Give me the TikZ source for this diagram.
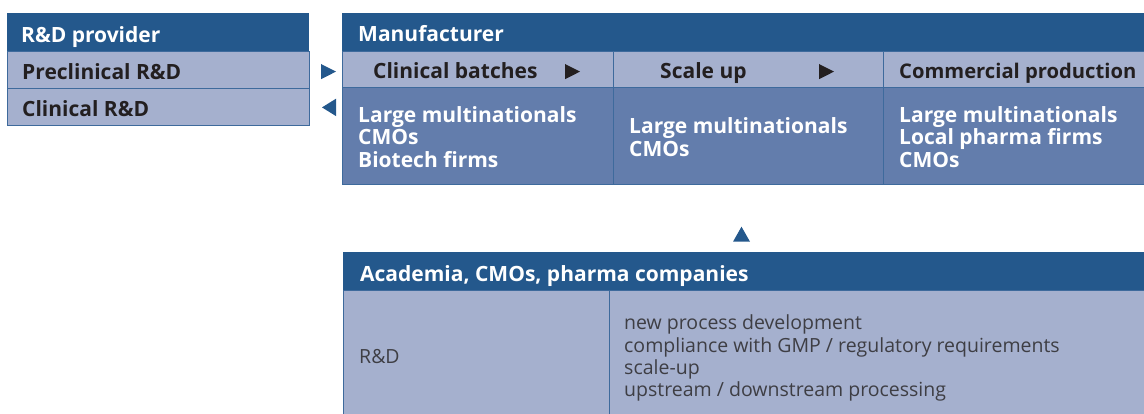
\documentclass[tikz,border=0pt]{standalone}
\usepackage{fontspec}
\setmainfont{Open Sans}
\definecolor{hdr}{RGB}{36,88,140}
\definecolor{lightc}{RGB}{165,176,206}
\definecolor{midc}{RGB}{99,125,172}
\definecolor{edgec}{RGB}{62,106,156}
\definecolor{ink}{RGB}{35,31,32}
\definecolor{grayink}{RGB}{62,62,68}
\tikzset{
  hdrbox/.style={fill=hdr, draw=none, inner sep=0, anchor=north west},
  lightbox/.style={fill=lightc, draw=edgec, line width=0.9pt, inner sep=0, anchor=north west},
  midbox/.style={fill=midc, draw=edgec, line width=0.9pt, inner sep=0, anchor=north west},
  boldfont/.style={font=\bfseries\fontsize{21}{22.7}\selectfont},
  hdrtext/.style={boldfont, anchor=base west, inner sep=0, text=white},
  rowtext/.style={boldfont, anchor=base west, inner sep=0, text=ink},
  celltext/.style={boldfont, anchor=base west, inner sep=0, text=white, align=left},
  bodytext/.style={font=\fontsize{19.5}{22.3}\selectfont, anchor=base west, inner sep=0, text=grayink, align=left},
  bluetri/.style={fill=hdr, draw=none},
  blacktri/.style={fill=ink, draw=none}
}
\begin{document}
\begin{tikzpicture}[x=1pt,y=-1pt]
\useasboundingbox (0,0) rectangle (1144,414);
\clip (0,0) rectangle (1144,414);
% ---------- R&D provider table
\node[hdrbox, minimum width=302pt, minimum height=38pt] (hL) at (7,13) {};
\node[lightbox, minimum width=302pt, minimum height=37pt] (pre) at (7,51) {};
\node[lightbox, minimum width=302pt, minimum height=37pt] (cli) at (7,88) {};
\node[hdrtext] (thL) at (21,42.7) {R\&D provider};
\node[rowtext] (tpre) at (22,79.3) {Preclinical R\&D};
\node[rowtext] (tcli) at (22,116.7) {Clinical R\&D};
% ---------- Manufacturer table
\node[hdrbox, minimum width=810pt, minimum height=38pt] (hM) at (342,13) {};
\node[lightbox, minimum width=271pt, minimum height=36pt] (s1) at (342,51) {};
\node[lightbox, minimum width=270pt, minimum height=36pt] (s2) at (613,51) {};
\node[lightbox, minimum width=270pt, minimum height=36pt] (s3) at (883,51) {};
\node[midbox, minimum width=271pt, minimum height=97pt] (c1) at (342,87) {};
\node[midbox, minimum width=270pt, minimum height=97pt] (c2) at (613,87) {};
\node[midbox, minimum width=270pt, minimum height=97pt] (c3) at (883,87) {};
\node[hdrtext] (thM) at (358,42) {Manufacturer};
\node[rowtext] (ts1) at (373,78.7) {Clinical batches};
\node[rowtext] (ts2) at (660,78.7) {Scale up};
\node[rowtext, font=\bfseries\fontsize{20.2}{22.7}\selectfont] (ts3) at (899,78.7) {Commercial production};
\node[celltext] (tc1) at (358,167.7) {Large multinationals\\CMOs\\Biotech firms};
\node[celltext] (tc2) at (629,156.7) {Large multinationals\\CMOs};
\node[celltext] (tc3) at (899,167.7) {Large multinationals\\Local pharma firms\\CMOs};
% small black step triangles
\coordinate (k1) at (565,64);
\coordinate (k2) at (819,64);
\fill[blacktri] (k1) -- ++(15,7.6) -- ++(-15,7.6) -- cycle;
\fill[blacktri] (k2) -- ++(15,7.6) -- ++(-15,7.6) -- cycle;
% ---------- blue link triangles
\coordinate (r1) at (321,64);
\coordinate (l1) at (336,98.7);
\coordinate (u1) at (733,241.7);
\fill[bluetri] (r1) -- ++(15,7.6) -- ++(-15,7.6) -- cycle;
\fill[bluetri] (l1) -- ++(-14,8.7) -- ++(14,8.7) -- cycle;
\fill[bluetri] (u1) -- ++(8.5,-15) -- ++(8.5,15) -- cycle;
% ---------- Academia table
\node[hdrbox, minimum width=810pt, minimum height=38pt] (hB) at (343,252) {};
\node[lightbox, minimum width=266pt, minimum height=140pt] (b1) at (343,290) {};
\node[lightbox, minimum width=540pt, minimum height=140pt] (b2) at (609,290) {};
\node[hdrtext] (thB) at (360,281.7) {Academia, CMOs, pharma companies};
\node[bodytext] (tb1) at (359,363.3) {R\&D};
\node[bodytext] (tb2) at (624,396.7) {new process development\\compliance with GMP / regulatory requirements\\scale-up\\upstream / downstream processing};
\end{tikzpicture}
\end{document}
